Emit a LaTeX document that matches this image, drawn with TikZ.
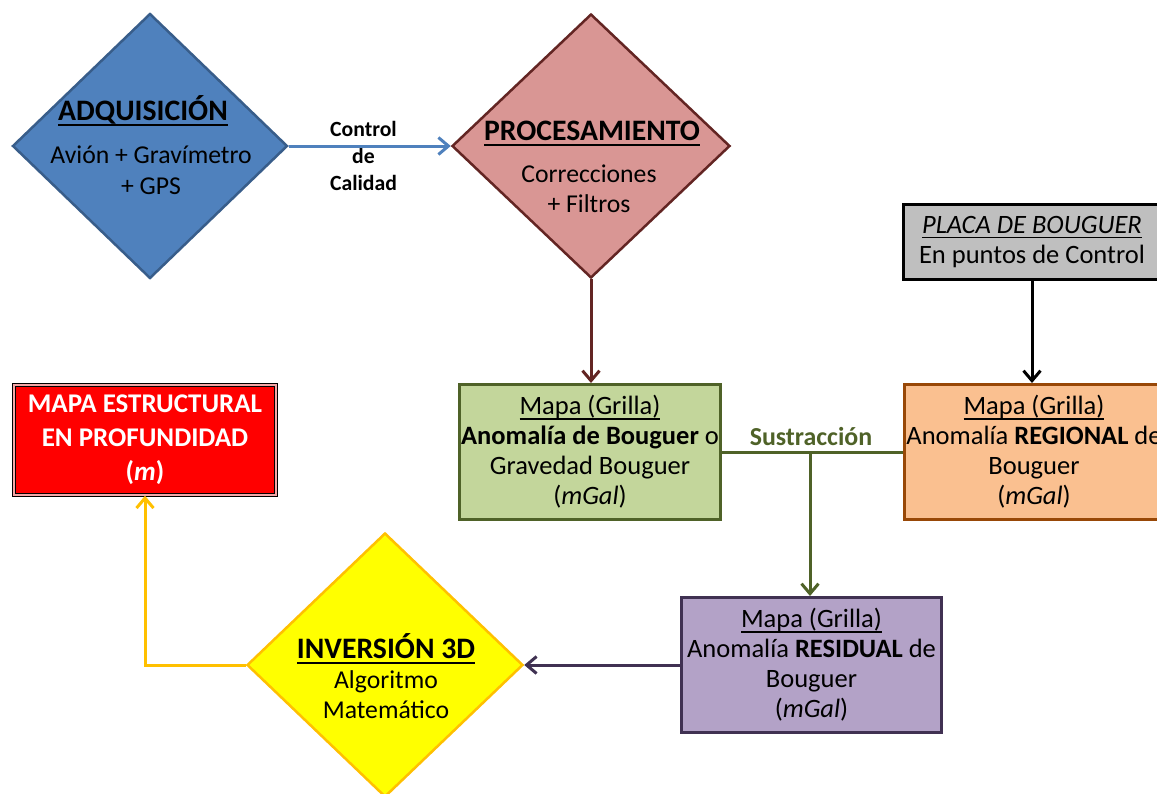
\documentclass[tikz,border=0pt]{standalone}
\usepackage{fontspec}
\setmainfont{Carlito}
\usetikzlibrary{shapes.geometric,arrows.meta}
\definecolor{adqF}{HTML}{4F81BD}
\definecolor{adqL}{HTML}{385D8A}
\definecolor{proF}{HTML}{D99694}
\definecolor{proL}{HTML}{632523}
\definecolor{grnF}{HTML}{C3D69B}
\definecolor{grnL}{HTML}{4F6228}
\definecolor{orgF}{HTML}{FAC090}
\definecolor{orgL}{HTML}{984807}
\definecolor{gryF}{HTML}{BFBFBF}
\definecolor{purF}{HTML}{B3A2C7}
\definecolor{purL}{HTML}{403152}
\definecolor{yelF}{HTML}{FFFF00}
\definecolor{yelL}{HTML}{FFC000}
\definecolor{redD}{HTML}{F4A6A6}
\newcommand\fBody{\fontsize{26.5}{30}\selectfont}
\newcommand\fDia{\fontsize{25.7}{30}\selectfont}
\newcommand\fTitle{\fontsize{29.7}{34}\selectfont\bfseries}
\newcommand\fCtl{\fontsize{21.7}{27}\selectfont\bfseries}
\newcommand\fRed{\fontsize{27}{34}\selectfont\bfseries}
\newcommand\ulbox[3]{\setbox0=\hbox{#1}\rlap{\rule[-#2]{\wd0}{#3}}\box0}
\begin{document}
\begin{tikzpicture}[x=1pt,y=-1pt,
  dia/.style={shape=diamond, inner sep=0pt, line width=2.5pt},
  box/.style={shape=rectangle, inner sep=0pt, line width=3pt, align=center, font=\fBody},
  conn/.style={line width=3pt, -{Straight Barb[length=10pt,width=17pt,line width=3pt]}},
  ttl/.style={anchor=base, inner sep=0pt, font=\fTitle},
  dtx/.style={anchor=base, inner sep=0pt, font=\fDia},
  ctl/.style={anchor=base, inner sep=0pt, font=\fCtl}]
\fill[white] (0,0) rectangle (1157,793);
\clip (0,0) rectangle (1157,793);
% diamonds
\node[dia, fill=adqF, draw=adqL, minimum width=275pt, minimum height=265pt] (adq) at (150,146) {};
\node[dia, fill=proF, draw=proL, minimum width=278pt, minimum height=264pt] (pro) at (591,146) {};
\node[dia, fill=yelF, draw=yelL, minimum width=276pt, minimum height=264pt] (inv) at (385,665) {};
% diamond texts
\node[ttl] (adqA) at (143,120) {\ulbox{ADQUISICIÓN}{6pt}{2pt}};
\node[dtx] (adqB) at (151,163) {Avión + Gravímetro};
\node[dtx] (adqC) at (151,194) {+ GPS};
\node[ttl] (proA) at (592,140) {\ulbox{PROCESAMIENTO}{6pt}{2pt}};
\node[dtx] (proB) at (589,182) {Correcciones};
\node[dtx] (proC) at (589,212) {+ Filtros};
\node[ttl] (invA) at (386,658) {\ulbox{INVERSIÓN 3D}{6pt}{2pt}};
\node[dtx] (invB) at (386,688) {Algoritmo};
\node[dtx] (invC) at (386,718) {Matemático};
% boxes
\node[box, fill=grnF, draw=grnL, minimum width=261pt, minimum height=135pt] (grn) at (590,452)
  {\ulbox{Mapa (Grilla)}{5pt}{1.4pt}\\\textbf{Anomalía de Bouguer} o\\Gravedad Bouguer\\(\textit{mGal})};
\node[box, fill=orgF, draw=orgL, minimum width=260pt, minimum height=135pt] (org) at (1034,452)
  {\ulbox{Mapa (Grilla)}{5pt}{1.4pt}\\Anomalía \textbf{REGIONAL} de\\Bouguer\\(\textit{mGal})};
\node[box, fill=purF, draw=purL, minimum width=260pt, minimum height=135pt] (pur) at (811.5,665)
  {\ulbox{Mapa (Grilla)}{5pt}{1.4pt}\\Anomalía \textbf{RESIDUAL} de\\Bouguer\\(\textit{mGal})};
\node[box, fill=gryF, draw=black, minimum width=258pt, minimum height=75pt] (gry) at (1032,242)
  {\ulbox{\textit{PLACA DE BOUGUER}}{5pt}{1.4pt}\\En puntos de Control};
\node[box, fill=red, draw=black, line width=1.5pt, double=redD, double distance=1.5pt, minimum width=262pt, minimum height=110pt, font=\fRed, text=white] (map) at (145,440)
  {MAPA ESTRUCTURAL\\EN PROFUNDIDAD\\(\textit{m})};
% labels
\node[ctl] (c1) at (363.5,136) {Control};
\node[ctl] (c2) at (363.5,163) {de};
\node[ctl] (c3) at (363.5,190) {Calidad};
\node[anchor=base, inner sep=0pt, font=\fontsize{25.9}{30}\selectfont\bfseries, text=grnL] (sus) at (811,445) {Sustracción};
% connectors
\draw[conn, adqF] (adq.east) -- (pro.west);
\draw[conn, proL] (pro.south) -- (pro.south |- grn.north);
\draw[conn, black] (gry.south) -- (gry.south |- org.north);
\draw[line width=3pt, grnL] (grn.east) -- (org.west);
\coordinate (sj) at (810,452);
\draw[conn, grnL] (sj) -- (sj |- pur.north);
\draw[conn, purL] (pur.west) -- (inv.east);
\draw[conn, yelL] (inv.west) -| (map.south);
\end{tikzpicture}
\end{document}
